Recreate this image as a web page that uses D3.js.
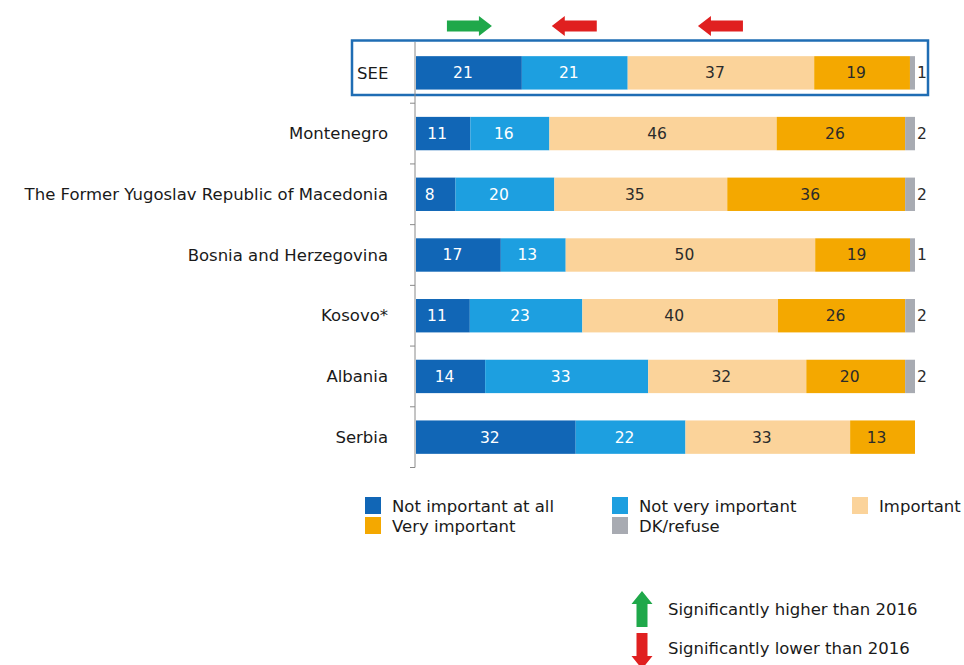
<!DOCTYPE html>
<html>
<head>
<meta charset="utf-8">
<script src="https://cdn.jsdelivr.net/npm/d3@7"></script>
<style>
  body { margin: 0; background: #fff; }
  svg { display: block; font-family: "DejaVu Sans", sans-serif; }
</style>
</head>
<body>
<div id="chart"></div>
<script>
  // chart values
  var categories = ['SEE', 'Montenegro', 'The Former Yugoslav Republic of Macedonia', 'Bosnia and Herzegovina', 'Kosovo*', 'Albania', 'Serbia'];
  var notAtAll = [21, 11, 8, 17, 11, 14, 32];
  var notVery = [21, 16, 20, 13, 23, 33, 22];
  var important = [37, 46, 35, 50, 40, 32, 33];
  var veryImportant = [19, 26, 36, 19, 26, 20, 13];
  var dkRefuse = [1, 2, 2, 1, 2, 2, 0];
  var seriesNames = ['Not important at all', 'Not very important', 'Important', 'Very important', 'DK/refuse'];
  // change vs 2016 for the SEE row: 1 = higher, -1 = lower, 0 = none
  var seeChange = [1, -1, -1, 0, 0];

  var colors = ['#1166b6', '#1d9fe0', '#fbd39a', '#f4a800', '#a8abb2'];
  var textColors = ['#fff', '#fff', '#2b2b2b', '#2b2b2b', '#2b2b2b'];

  var width = 964, height = 665;
  var keys = ['k0', 'k1', 'k2', 'k3', 'k4'];

  var rows = categories.map(function (c, i) {
    return { name: c, k0: notAtAll[i], k1: notVery[i], k2: important[i], k3: veryImportant[i], k4: dkRefuse[i] };
  });

  var stacked = d3.stack().keys(keys).offset(d3.stackOffsetExpand)(rows);

  var svg = d3.select('#chart').append('svg')
    .attr('width', width)
    .attr('height', height);

  var x = d3.scaleLinear().domain([0, 1]).range([416, 915]);
  var y = d3.scaleBand().domain(categories).range([42.5, 467.5])
    .paddingInner(0.45).paddingOuter(0.225);

  // highlight box round SEE
  svg.append('rect')
    .attr('x', 352)
    .attr('y', 40.5)
    .attr('width', 576)
    .attr('height', 54.5)
    .attr('fill', 'none')
    .attr('stroke', '#1f6db4')
    .attr('stroke-width', 2.5);

  // category axis
  var axis = svg.append('g')
    .attr('transform', 'translate(415,0)')
    .call(d3.axisLeft(y).tickSize(0).tickFormat(''));
  axis.select('.domain').attr('stroke', '#8a8a8a').attr('d', 'M0,42V467.5');

  // ticks between the rows
  var bounds = categories.slice(1).map(function (c) {
    return y(c) - y.step() * y.paddingInner() / 2;
  }).concat([467.5]);
  svg.append('g').selectAll('line')
    .data(bounds)
    .enter()
    .append('line')
    .attr('x1', 410)
    .attr('x2', 415)
    .attr('y1', function (d) { return d; })
    .attr('y2', function (d) { return d; })
    .attr('stroke', '#8a8a8a');

  // row labels
  svg.append('g').selectAll('text')
    .data(categories)
    .enter()
    .append('text')
    .text(function (d) { return d; })
    .attr('x', function (d, i) { return i === 0 ? 357 : 388; })
    .attr('y', function (d) { return y(d) + y.bandwidth() / 2; })
    .attr('dy', '0.35em')
    .attr('text-anchor', function (d, i) { return i === 0 ? 'start' : 'end'; })
    .attr('font-size', 16.5)
    .attr('fill', '#1a1a1a');

  // bars
  var layers = svg.append('g').selectAll('g')
    .data(stacked)
    .enter()
    .append('g')
    .attr('fill', function (d, i) { return colors[i]; });

  layers.selectAll('rect')
    .data(function (d) { return d; })
    .enter()
    .append('rect')
    .attr('x', function (d) { return x(d[0]); })
    .attr('y', function (d) { return y(d.data.name); })
    .attr('width', function (d) { return x(d[1]) - x(d[0]); })
    .attr('height', y.bandwidth());

  // value labels
  stacked.forEach(function (layer, li) {
    svg.append('g').selectAll('text')
      .data(layer.filter(function (d) { return d.data[keys[li]] > 0; }))
      .enter()
      .append('text')
      .text(function (d) { return d.data[keys[li]]; })
      .attr('x', function (d) {
        return li === 4 ? x(d[1]) + 2 : (x(d[0]) + x(d[1])) / 2 - 6;
      })
      .attr('y', function (d) { return y(d.data.name) + y.bandwidth() / 2; })
      .attr('dy', '0.35em')
      .attr('text-anchor', li === 4 ? 'start' : 'middle')
      .attr('font-size', 15.5)
      .attr('fill', textColors[li]);
  });

  // arrow shapes
  function rightArrow(cx, cy) {
    return 'M' + (cx - 22) + ',' + (cy - 5.5) + 'H' + (cx + 10) + 'V' + (cy - 10) +
      'L' + (cx + 23) + ',' + cy + 'L' + (cx + 10) + ',' + (cy + 10) + 'V' + (cy + 5.5) +
      'H' + (cx - 22) + 'Z';
  }
  function leftArrow(cx, cy) {
    return 'M' + (cx + 22) + ',' + (cy - 5.5) + 'H' + (cx - 10) + 'V' + (cy - 10) +
      'L' + (cx - 23) + ',' + cy + 'L' + (cx - 10) + ',' + (cy + 10) + 'V' + (cy + 5.5) +
      'H' + (cx + 22) + 'Z';
  }
  function upArrow(cx, cy) {
    return 'M' + (cx - 5.5) + ',' + (cy + 18) + 'V' + (cy - 5) + 'H' + (cx - 10.5) +
      'L' + cx + ',' + (cy - 18) + 'L' + (cx + 10.5) + ',' + (cy - 5) + 'H' + (cx + 5.5) +
      'V' + (cy + 18) + 'Z';
  }
  function downArrow(cx, cy) {
    return 'M' + (cx - 5.5) + ',' + (cy - 18) + 'V' + (cy + 5) + 'H' + (cx - 10.5) +
      'L' + cx + ',' + (cy + 18) + 'L' + (cx + 10.5) + ',' + (cy + 5) + 'H' + (cx + 5.5) +
      'V' + (cy - 18) + 'Z';
  }

  // change arrows above SEE
  var seeSegs = stacked.map(function (layer) { return layer[0]; });
  svg.append('g').selectAll('path')
    .data(seeSegs.filter(function (d, i) { return seeChange[i] !== 0; }).map(function (d) {
      var i = seeSegs.indexOf(d);
      return { cx: (x(d[0]) + x(d[1])) / 2, dir: seeChange[i] };
    }))
    .enter()
    .append('path')
    .attr('d', function (d) { return d.dir > 0 ? rightArrow(d.cx, 26) : leftArrow(d.cx, 26); })
    .attr('fill', function (d) { return d.dir > 0 ? '#1fa84a' : '#e02020'; });

  // legend
  var legendPos = [[365, 497], [612, 497], [852, 497], [365, 517], [612, 517]];
  var legend = svg.append('g').selectAll('g')
    .data(seriesNames)
    .enter()
    .append('g')
    .attr('transform', function (d, i) { return 'translate(' + legendPos[i][0] + ',' + legendPos[i][1] + ')'; });
  legend.append('rect')
    .attr('width', 16)
    .attr('height', 17)
    .attr('fill', function (d, i) { return colors[i]; });
  legend.append('text')
    .text(function (d) { return d; })
    .attr('x', 27)
    .attr('y', 9)
    .attr('dy', '0.35em')
    .attr('font-size', 16.5)
    .attr('fill', '#1a1a1a');

  // significance legend
  var sigLegend = [
    { label: 'Significantly higher than 2016', dir: 1, y: 609 },
    { label: 'Significantly lower than 2016', dir: -1, y: 648 }
  ];
  var sig = svg.append('g').selectAll('g')
    .data(sigLegend)
    .enter()
    .append('g');
  sig.append('path')
    .attr('d', function (d) { return d.dir > 0 ? upArrow(642, d.y) : downArrow(642, d.y + 3); })
    .attr('fill', function (d) { return d.dir > 0 ? '#1fa84a' : '#e02020'; });
  sig.append('text')
    .text(function (d) { return d.label; })
    .attr('x', 668)
    .attr('y', function (d) { return d.y; })
    .attr('dy', '0.35em')
    .attr('font-size', 16.5)
    .attr('fill', '#1a1a1a');
</script>
</body>
</html>
